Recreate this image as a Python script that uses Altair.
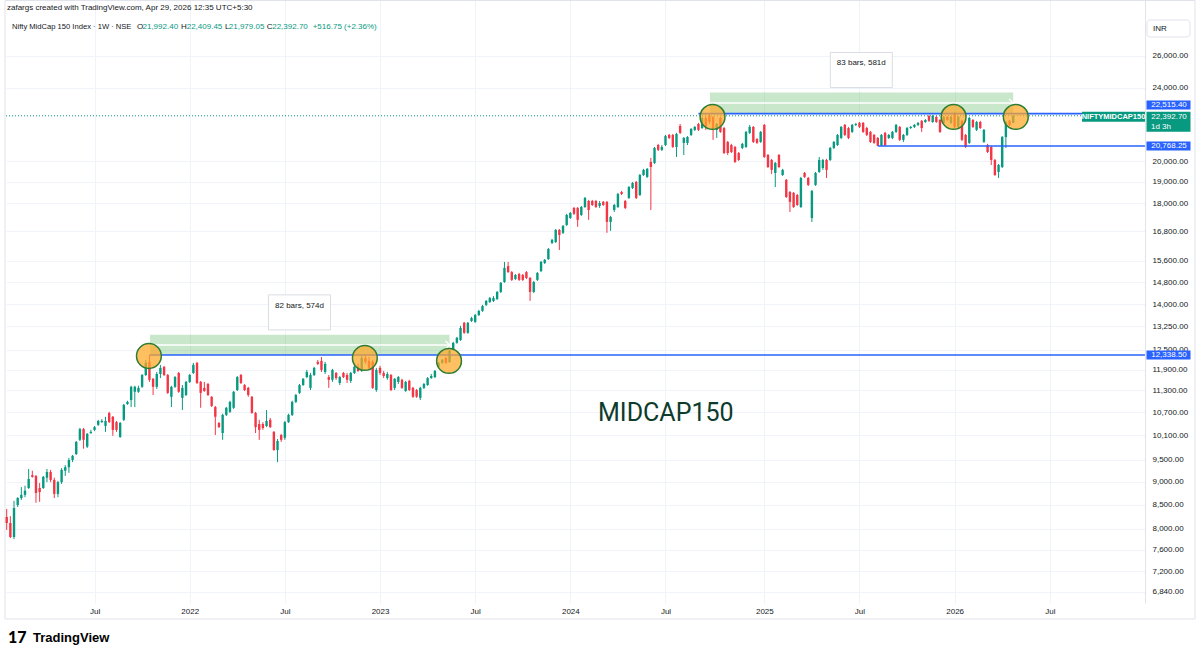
import altair as alt
import pandas as pd

# ---------------- data (weekly candles, Nifty MidCap 150, INR) ----------------
first_week = "2021-01-18"

opens = [
    8240, 8120, 7840, 8490, 8640, 8710, 8860, 9150, 9130, 8860,
    8860, 9090, 9220, 9040, 8730, 8990, 9250, 9330, 9500, 9640,
    9990, 10260, 9820, 10160, 10240, 10370, 10440, 10340, 10680, 10580,
    10440, 10060, 10500, 10920, 11030, 11260, 11260, 11400, 11740, 12130,
    11630, 11400, 11770, 11980, 11740, 11120, 11400, 11800, 11090, 11170,
    11540, 11800, 12100, 11540, 11370, 11480, 11120, 10840, 10420, 10160,
    10630, 10710, 10820, 11310, 11740, 11450, 11370, 11120, 10680, 10390,
    10390, 10340, 10500, 10190, 9740, 10110, 10040, 10440, 10630, 10980,
    11230, 11450, 11680, 11370, 11740, 12130, 12160, 11830, 11680, 11600,
    11800, 11510, 11800, 11740, 11570, 11800, 11980, 11860, 12250, 12160,
    12130, 11310, 11950, 11800, 11650, 11740, 11370, 11540, 11600, 11280,
    11570, 11370, 11310, 11090, 11370, 11450, 11650, 11680, 11980, 12100,
    12250, 12130, 12500, 12720, 12810, 13370, 13040, 13430, 13400, 13630,
    13770, 13980, 14080, 14120, 14190, 14440, 14800, 15400, 15170, 14910,
    15100, 15060, 15170, 14950, 14440, 14880, 15210, 15520, 15670, 16310,
    16350, 16850, 16730, 17060, 17360, 17800, 17800, 17490, 17840, 18110,
    18110, 18110, 17890, 18070, 18070, 17190, 17710, 17840, 18520, 18110,
    18250, 18710, 18990, 18380, 19320, 19230, 19960, 19910, 20820, 20570,
    20820, 21350, 21350, 20720, 21830, 20930, 20930, 21350, 21620, 21940,
    21720, 22270, 22380, 22330, 21620, 22270, 21720, 20980, 20820, 20720,
    20410, 20670, 20720, 21460, 21780, 21130, 20980, 21890, 20310, 20060,
    19420, 20310, 19320, 19090, 18520, 18480, 18380, 17840, 19420, 19180,
    17360, 18850, 19470, 19660, 20060, 20060, 20670, 20820, 21190, 21890,
    21720, 21510, 21890, 22000, 22000, 21720, 21510, 21350, 21190, 20780,
    21460, 21190, 21190, 21510, 21780, 21090, 21350, 21720, 21780, 21890,
    22110, 22050, 22380, 22050, 22330, 22160, 22000, 22330, 22000, 22500,
    21780, 22110, 21350, 20930, 22160, 21620, 22050, 20980, 20820, 20720,
    20060, 19470, 19710, 21240, 22110, 21992.40,
]
highs = [
    8410, 8260, 8580, 8660, 8880, 8910, 9290, 9250, 9150, 8970,
    9130, 9290, 9270, 9090, 9020, 9310, 9380, 9550, 9620, 9960,
    10290, 10290, 10160, 10240, 10340, 10500, 10520, 10580, 10710, 10600,
    10470, 10440, 10920, 11010, 11430, 11430, 11430, 11770, 12190, 12338.5,
    11650, 11830, 12040, 12010, 11770, 11430, 11710, 11830, 11450, 11570,
    11770, 12100, 12130, 11570, 11540, 11510, 11140, 10870, 10440, 10660,
    10840, 11010, 11280, 11710, 11770, 11480, 11400, 11140, 10710, 10500,
    10440, 10760, 10550, 10210, 10010, 10140, 10470, 10660, 11010, 11200,
    11480, 11650, 11890, 11800, 11980, 12190, 12280, 12130, 11740, 11920,
    11830, 11710, 11830, 11800, 11830, 12040, 12070, 12340, 12340, 12280,
    12190, 11950, 12010, 11860, 11830, 11770, 11650, 11710, 11630, 11570,
    11600, 11400, 11340, 11400, 11510, 11680, 11770, 11890, 12130, 12220,
    12280, 12500, 12750, 12910, 13270, 13400, 13400, 13570, 13670, 13810,
    13980, 14150, 14260, 14290, 14470, 14800, 15560, 15560, 15210, 15100,
    15140, 15100, 15210, 14990, 14840, 15170, 15600, 15670, 16110, 16480,
    16890, 16890, 17060, 17540, 17620, 17840, 17840, 17890, 18290, 18160,
    18160, 18160, 18110, 18110, 18110, 17450, 17980, 18480, 18570, 18160,
    18800, 18990, 19040, 19370, 19620, 19660, 20160, 20720, 20880, 20820,
    21350, 21400, 21400, 21460, 21940, 21240, 21290, 21720, 21830, 22000,
    22330, 22380, 22515.4, 22380, 22000, 22330, 21780, 21030, 20880, 20770,
    20460, 20930, 21560, 21890, 21830, 21190, 21560, 21940, 20360, 20110,
    19960, 20360, 19620, 19130, 18570, 18520, 18430, 19230, 19470, 19230,
    18620, 19470, 20210, 20110, 20110, 20720, 21030, 21400, 21830, 21940,
    21780, 21940, 22000, 22050, 22050, 21780, 21560, 21400, 21240, 21400,
    21510, 21400, 21560, 21940, 21830, 21400, 21780, 21830, 21940, 22050,
    22160, 22210, 22440, 22440, 22380, 22210, 22380, 22380, 22380, 22610,
    22380, 22160, 21400, 22330, 22210, 22110, 22110, 21670, 20880, 20770,
    20110, 19860, 21290, 22110, 22160, 22409.45,
]
lows = [
    7980, 7820, 7800, 8450, 8600, 8660, 8840, 9090, 8540, 8560,
    8840, 8990, 8990, 8640, 8660, 8950, 9130, 9200, 9450, 9620,
    9960, 9770, 9790, 10140, 10210, 10340, 10420, 10190, 10420, 10090,
    10190, 10040, 10470, 10900, 10840, 10840, 11230, 11370, 11710, 11540,
    11170, 11340, 11650, 11710, 11200, 10840, 11370, 11230, 10760, 11140,
    11510, 11770, 11480, 10820, 11260, 11140, 10840, 10110, 10290, 9990,
    10600, 10680, 10790, 11280, 11480, 11280, 11120, 10660, 10160, 9990,
    10240, 10310, 10290, 9720, 9450, 9940, 9990, 10420, 10600, 10950,
    11200, 11430, 11650, 11310, 11710, 12040, 11830, 11770, 11370, 11540,
    11600, 11450, 11650, 11510, 11510, 11770, 11830, 11830, 12070, 11890,
    11340, 11260, 11740, 11650, 11600, 11280, 11310, 11480, 11340, 11260,
    11280, 11090, 11090, 11030, 11340, 11430, 11630, 11650, 11950, 12070,
    12070, 12100, 12470, 12690, 12780, 13010, 13010, 13400, 13370, 13600,
    13740, 13940, 14050, 14080, 14150, 14400, 14770, 15140, 14840, 14880,
    14840, 14840, 14910, 14120, 14400, 14840, 15170, 15480, 15640, 16270,
    16310, 16030, 16680, 17020, 17320, 17490, 16980, 17450, 17800, 17280,
    17890, 17800, 17800, 17890, 16730, 16810, 17620, 17800, 18380, 17750,
    18200, 18660, 18200, 18340, 19280, 19180, 17710, 19860, 20510, 20510,
    20770, 21130, 20670, 20210, 21400, 20310, 20820, 21290, 21560, 21560,
    21670, 21620, 21940, 21090, 21190, 21460, 20360, 20310, 20410, 19910,
    20010, 20610, 20670, 21400, 20930, 20880, 20930, 20160, 19660, 19370,
    18750, 19660, 19280, 18250, 17620, 17800, 17890, 17800, 19180, 18800,
    17190, 18800, 19420, 19570, 19180, 20010, 20610, 20770, 21130, 21290,
    21130, 21460, 21830, 21720, 21460, 21290, 20930, 20880, 20768.25, 20770,
    20768.25, 21130, 21130, 21460, 21030, 20980, 21290, 21670, 21720, 21830,
    21510, 22000, 22050, 22000, 22000, 21460, 21940, 22110, 21940, 21720,
    21720, 21030, 20670, 20880, 21720, 21560, 21670, 20930, 20410, 19810,
    19280, 19180, 19660, 20670, 21830, 21979.05,
]
closes = [
    8120, 7840, 8430, 8640, 8710, 8800, 9060, 9110, 8750, 8770,
    9110, 9220, 9040, 8730, 8990, 9270, 9330, 9500, 9600, 9940,
    10260, 9990, 10140, 10190, 10310, 10470, 10470, 10470, 10440, 10240,
    10240, 10420, 10900, 10980, 11400, 11400, 11370, 11740, 12100, 11600,
    11400, 11770, 11950, 11740, 11230, 11400, 11680, 11260, 11370, 11540,
    11740, 12040, 11510, 11230, 11280, 11170, 10870, 10580, 10310, 10630,
    10820, 10980, 11260, 11680, 11510, 11310, 11170, 10680, 10310, 10240,
    10290, 10470, 10310, 9740, 9960, 9990, 10440, 10630, 10980, 11170,
    11450, 11630, 11830, 11740, 11950, 12070, 11890, 12070, 11600, 11890,
    11650, 11680, 11680, 11600, 11800, 11980, 11860, 12250, 12130, 11950,
    11370, 11890, 11800, 11710, 11770, 11310, 11630, 11680, 11370, 11540,
    11310, 11120, 11120, 11370, 11480, 11650, 11710, 11860, 12100, 12190,
    12100, 12470, 12720, 12880, 13200, 13040, 13370, 13530, 13630, 13770,
    13940, 14120, 14220, 14220, 14440, 14770, 15330, 15170, 14880, 15060,
    14880, 14880, 14950, 14440, 14800, 15140, 15560, 15640, 16070, 16440,
    16850, 16640, 17020, 17490, 17580, 17540, 17280, 17840, 18250, 17710,
    17930, 17840, 18020, 17930, 17190, 17400, 17930, 18430, 18430, 17800,
    18750, 18940, 18250, 19320, 19570, 19620, 19710, 20670, 20570, 20720,
    21290, 21190, 20720, 21400, 21460, 21190, 21240, 21670, 21780, 21620,
    22270, 21780, 22050, 21720, 21940, 21510, 20410, 20410, 20460, 19960,
    20060, 20880, 21510, 21780, 20980, 20930, 21510, 20210, 19710, 19570,
    19910, 19710, 19570, 18290, 18070, 17840, 17930, 19180, 19230, 18850,
    18570, 19420, 20060, 20060, 19570, 20670, 20980, 21350, 21780, 21350,
    21190, 21890, 21940, 21780, 21510, 21350, 20980, 20930, 20780, 21350,
    20800, 21350, 21510, 21890, 21090, 21350, 21720, 21780, 21890, 22000,
    21720, 22160, 22110, 22380, 22050, 21510, 22330, 22160, 22330, 21780,
    22330, 21090, 20720, 22270, 21780, 22050, 21720, 21620, 20460, 20060,
    19320, 19810, 21240, 22050, 21875.95, 22392.70,
]

# horizontal levels drawn on the chart
level_prices = [12338.50, 22515.40, 20768.25]
level_starts = ["2021-10-18", "2024-09-02", "2025-08-11"]
level_end = "2027-01-04"

# date/price range tools
range_starts = ["2021-10-18", "2024-09-23"]
range_ends = ["2023-05-15", "2026-04-27"]
range_lows = [12338.50, 22515.40]
range_highs = [12975.0, 23730.0]
range_labels = ["82 bars, 574d", "83 bars, 581d"]

# highlighted touches
circle_dates = ["2021-10-17", "2022-12-04", "2023-05-14", "2024-09-29", "2026-01-03", "2026-05-02"]
circle_prices = [12310, 12250, 12160, 22330, 22330, 22330]

price_ticks = [6840, 7200, 7600, 8000, 8500, 9000, 9500, 10100, 10700, 11300, 11900,
               12500, 13250, 14000, 14800, 15600, 16800, 18000, 19000, 20000, 24000, 26000]
time_ticks = ["2021-07-05", "2022-01-03", "2022-07-04", "2023-01-02", "2023-07-03",
              "2024-01-01", "2024-07-01", "2025-01-06", "2025-07-07", "2026-01-05", "2026-07-06"]

title_line = "zafargs created with TradingView.com, Apr 29, 2026 12:35 UTC+5:30"
symbol_line = "Nifty MidCap 150 Index \u00b7 1W \u00b7 NSE"
ticker = "NIFTYMIDCAP150"
countdown = "1d 3h"
chart_label = "MIDCAP150"
label_anchor_date = "2024-02-23"
label_anchor_price = 10470

# ---------------- styling / layout ----------------
UP, DOWN, BLUE = "#089981", "#f23645", "#2962ff"
TXT = "#131722"
FONT = "Liberation Sans"
W, H = 1139, 603

candles = pd.DataFrame({
    "date": pd.date_range(first_week, periods=len(closes), freq="7D"),
    "open": opens, "high": highs, "low": lows, "close": closes,
})
candles["dir"] = ["up" if c >= o else "down" for o, c in zip(opens, closes)]


def dt(s):
    t = pd.Timestamp(s)
    return alt.DateTime(year=t.year, month=t.month, date=t.day)


x_scale = alt.Scale(domain=[alt.DateTime(year=2021, month=1, date=16, hours=16),
                            alt.DateTime(year=2027, month=1, date=4, hours=2)],
                    padding=0)
y_scale = alt.Scale(type="log", domain=[6653, 29879], nice=False, padding=0)

x_axis = alt.Axis(values=[dt(s) for s in time_ticks],
                  labelExpr="month(datum.value) == 0 ? timeFormat(datum.value, '%Y') : 'Jul'",
                  title=None, ticks=False, domain=False, grid=True, gridColor="#f0f3fa",
                  labelFont=FONT, labelFontSize=8, labelColor=TXT, labelPadding=4,
                  labelOverlap=False, labelFlush=False)
y_axis = alt.Axis(orient="right", values=price_ticks, format=",.2f", title=None,
                  ticks=False, domain=True, domainColor="#e0e3eb", grid=True,
                  gridColor="#f0f3fa", labelFont=FONT, labelFontSize=8, labelColor=TXT,
                  labelPadding=7, labelOverlap=False, labelFlush=False)


def X(f):
    return alt.X(f, type="temporal", scale=x_scale, axis=x_axis)


def Y(f):
    return alt.Y(f, type="quantitative", scale=y_scale, axis=y_axis)


color = alt.Color("dir:N", scale=alt.Scale(domain=["up", "down"], range=[UP, DOWN]), legend=None)

wicks = alt.Chart(candles).mark_rule(strokeWidth=1).encode(
    x=X("date"), y=Y("low"), y2="high", color=color)
bodies = alt.Chart(candles).mark_bar(size=2.4).encode(
    x=X("date"), y=Y("open"), y2="close", color=color)

ranges = pd.DataFrame({
    "start": pd.to_datetime(range_starts), "end": pd.to_datetime(range_ends),
    "lo": range_lows, "hi": range_highs, "label": range_labels,
})
ranges["mid"] = (ranges["lo"] * ranges["hi"]) ** 0.5
ranges["center"] = ranges["start"] + (ranges["end"] - ranges["start"]) / 2

range_rect = alt.Chart(ranges).mark_rect(color="#4caf50", opacity=0.3).encode(
    x=X("start"), x2="end", y=Y("lo"), y2="hi")
range_mid = alt.Chart(ranges).mark_rule(color="white", strokeWidth=1.5).encode(
    x=X("start"), x2="end", y=Y("mid"))
range_left = alt.Chart(ranges).mark_rule(color="white", strokeWidth=1.2).encode(
    x=X("start"), y=Y("lo"), y2="hi")
range_arrow = alt.Chart(ranges).mark_point(
    shape="M-1,-1L0,0L-1,1", size=64, filled=False, color="white", strokeWidth=1.3, opacity=1
).encode(x=X("end"), y=Y("mid"))
range_box = alt.Chart(ranges).mark_point(
    shape="M-1,-1.29L1,-1.29L1,-0.16L-1,-0.16Z", size=3844, filled=True, fill="white",
    stroke="#d1d4dc", strokeWidth=0.8, opacity=1
).encode(x=X("center"), y=Y("hi"))
range_text = alt.Chart(ranges).mark_text(dy=-29, fontSize=8, font=FONT, color=TXT).encode(
    x=X("center"), y=Y("hi"), text="label:N")

levels = pd.DataFrame({"start": pd.to_datetime(level_starts), "end": pd.Timestamp(level_end),
                       "price": level_prices})
levels["label"] = [f"{p:,.2f}" for p in level_prices]
level_lines = alt.Chart(levels).mark_rule(color=BLUE, strokeWidth=1.6).encode(
    x=X("start"), x2="end", y=Y("price"))

last = pd.DataFrame({"price": [closes[-1]], "label": [f"{closes[-1]:,.2f}"],
                     "count": [countdown], "ticker": [ticker]})
last_line = alt.Chart(last).mark_rule(color=UP, strokeDash=[1, 2], strokeWidth=1).encode(
    y=Y("price"), x=alt.value(0), x2=alt.value(W))

circles = pd.DataFrame({"date": pd.to_datetime(circle_dates), "price": circle_prices})
circle_marks = alt.Chart(circles).mark_circle(
    size=616, fill="#ffa726", fillOpacity=0.72, stroke="#2e7d32", strokeWidth=1.5, opacity=1
).encode(x=X("date"), y=Y("price"))

label_df = pd.DataFrame({"date": [pd.Timestamp(label_anchor_date)],
                         "price": [label_anchor_price], "t": [chart_label]})
big_label = alt.Chart(label_df).mark_text(
    align="left", baseline="alphabetic", font="Roboto", fontSize=25, color="#0d3b2c"
).encode(x=X("date"), y=Y("price"), text="t:N")

# price-scale tags
BOX_X = 1162.5
TXT_X = 1163


def tag(df, path, size, fill, xc):
    return alt.Chart(df).mark_point(shape=path, size=size, filled=True, fill=fill,
                                    strokeWidth=0, opacity=1).encode(
        x=alt.value(xc), y=Y("price"))


def tag_text(df, field, dy, xc, weight="normal", size=8):
    return alt.Chart(df).mark_text(dy=dy, font=FONT, fontSize=size, color="white",
                                   fontWeight=weight, baseline="middle").encode(
        x=alt.value(xc), y=Y("price"), text=f"{field}:N")


lv_std = levels.iloc[[0, 2]]
lv_up = levels.iloc[[1]]
tags = [
    tag(lv_std, "M-1,-0.205L1,-0.205L1,0.205L-1,0.205Z", 1936, BLUE, BOX_X),
    tag_text(lv_std, "label", 0, TXT_X),
    tag(lv_up, "M-1,-0.591L1,-0.591L1,-0.182L-1,-0.182Z", 1936, BLUE, BOX_X),
    tag_text(lv_up, "label", -8.5, TXT_X),
    tag(last, "M-1,-0.182L1,-0.182L1,0.727L-1,0.727Z", 1936, UP, BOX_X),
    tag_text(last, "label", 1, TXT_X),
    tag_text(last, "count", 11, TXT_X - 8),
    tag(last, "M-1,-0.127L1,-0.127L1,0.19L-1,0.19Z", 3969, UP, 1107.5),
    tag_text(last, "ticker", 1, 1107.5, weight="bold", size=7.5),
]

# header texts
chg = closes[-1] - closes[-2]
pct = chg / closes[-2] * 100
header_pieces = [
    (title_line, 1, 8, TXT, 8),
    (symbol_line, 6, 27, TXT, 7.6),
    ("O", 131, 27, TXT, 8), (f"{opens[-1]:,.2f}", 136.5, 27, UP, 8),
    ("H", 175, 27, TXT, 8), (f"{highs[-1]:,.2f}", 180.7, 27, UP, 8),
    ("L", 219, 27, TXT, 8), (f"{lows[-1]:,.2f}", 222.8, 27, UP, 8),
    ("C", 260.7, 27, TXT, 8), (f"{closes[-1]:,.2f}", 266.2, 27, UP, 8),
    (f"{chg:+,.2f} ({pct:+.2f}%)", 306.7, 27, UP, 8),
]
header = [
    alt.Chart(pd.DataFrame({"t": [t]})).mark_text(
        align="left", baseline="middle", font=FONT, fontSize=fs, color=c
    ).encode(x=alt.value(x), y=alt.value(y), text="t:N")
    for t, x, y, c, fs in header_pieces
]

inr_box = alt.Chart(pd.DataFrame({"t": ["INR"]})).mark_rect(
    fill="white", stroke="#e0e3eb", strokeWidth=1, cornerRadius=3
).encode(x=alt.value(1141), x2=alt.value(1184), y=alt.value(20), y2=alt.value(37))
inr_text = alt.Chart(pd.DataFrame({"t": ["INR"]})).mark_text(
    align="left", baseline="middle", font=FONT, fontSize=8, color=TXT
).encode(x=alt.value(1147), y=alt.value(29), text="t:N")

frame = alt.Chart(pd.DataFrame({"t": [""]})).mark_rect(
    fill=None, filled=False, stroke="#e0e3eb", strokeWidth=1
).encode(x=alt.value(-1), x2=alt.value(1189), y=alt.value(0.5), y2=alt.value(619))

logo = alt.Chart(pd.DataFrame({"t": ["17"]})).mark_text(
    align="left", baseline="middle", font="Lato", fontWeight=900, fontSize=16, color="#000000"
).encode(x=alt.value(2), y=alt.value(638), text="t:N")
brand = alt.Chart(pd.DataFrame({"t": ["TradingView"]})).mark_text(
    align="left", baseline="middle", font=FONT, fontWeight="bold", fontSize=13, color="#000000"
).encode(x=alt.value(27), y=alt.value(638), text="t:N")

chart = alt.layer(
    frame, range_rect, last_line, wicks, bodies, range_mid, range_left, range_arrow,
    level_lines, circle_marks, range_box, range_text, big_label,
    *tags, inr_box, inr_text, *header, logo, brand,
).properties(
    width=W, height=H,
    padding={"left": 6, "top": 0, "right": 55, "bottom": 56},
    autosize=alt.AutoSizeParams(type="none"),
    background="white",
).configure_view(strokeWidth=0)

chart.save("out.html", embed_options={"renderer": "svg", "actions": False})
